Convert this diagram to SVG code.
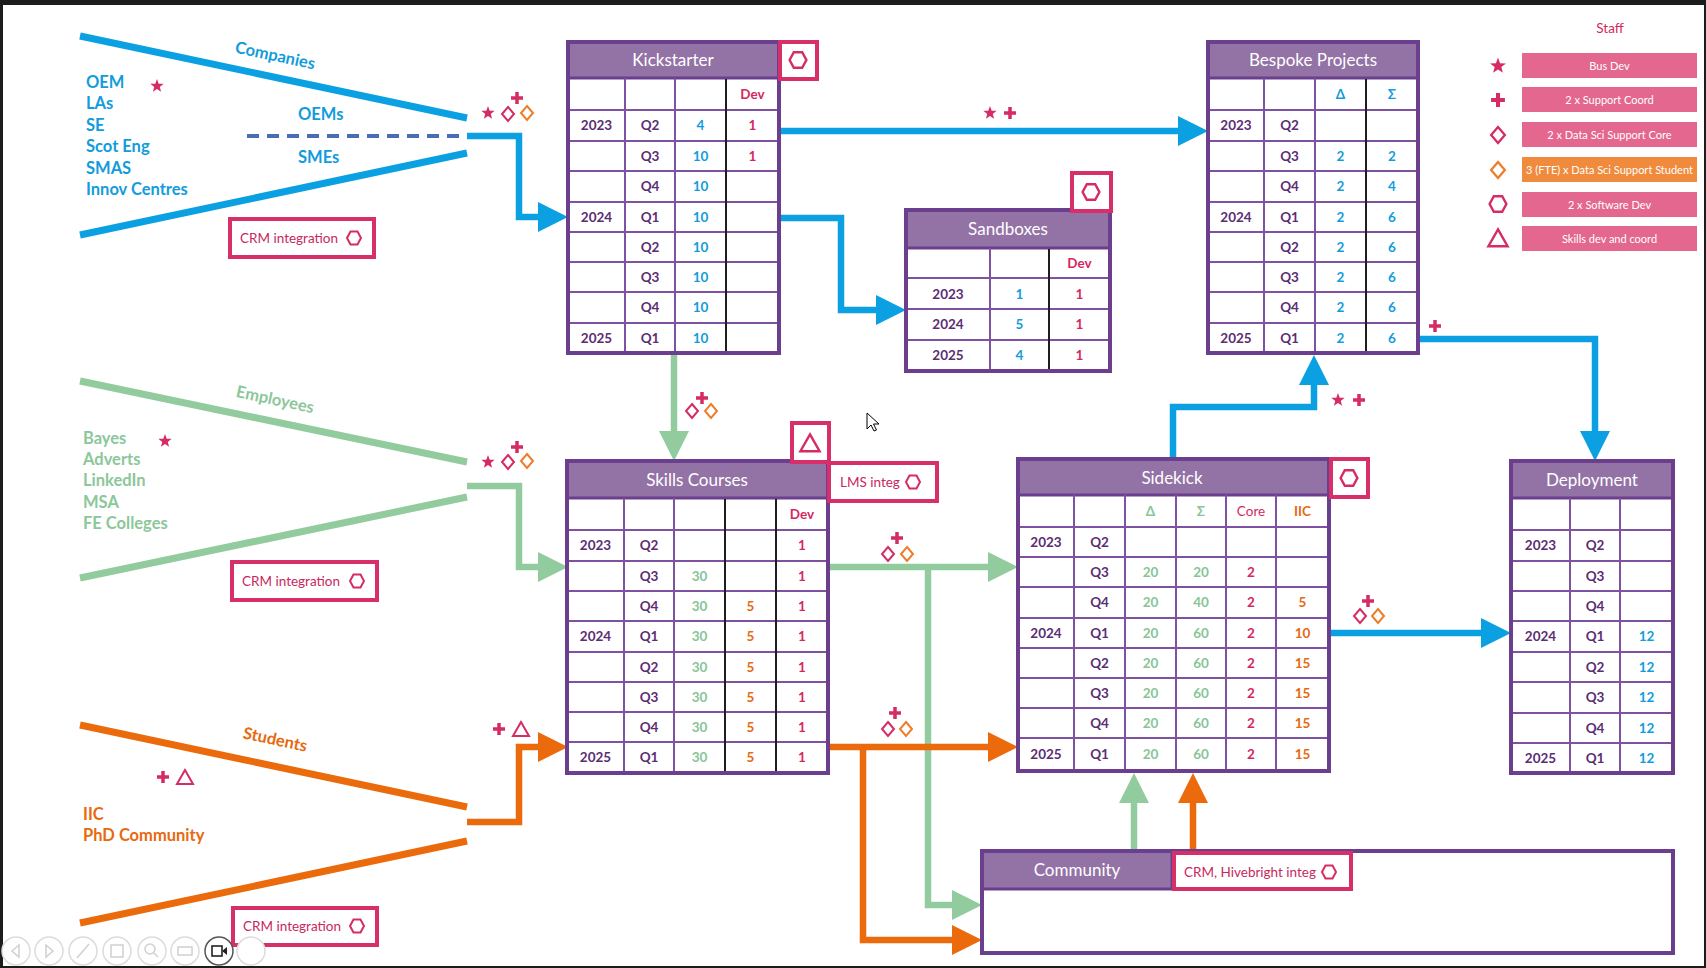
<svg xmlns="http://www.w3.org/2000/svg" width="1706" height="968" viewBox="0 0 1706 968">
<defs>
<style>
text{font-family:Lato,'Open Sans','DejaVu Sans',sans-serif}
.frame{fill:none;stroke:#6B3F8D;stroke-width:4}
.hdr{fill:#9372A5;stroke:#6B3F8D;stroke-width:3}
.grid{fill:none;stroke:#7E52A0;stroke-width:2}
.blk{fill:none;stroke:#1e1e1e;stroke-width:2}
.ttl{font-size:17px;fill:#fff;text-anchor:middle}
.c{font-size:13.5px;font-weight:bold;text-anchor:middle}
.p{fill:#5B2D73}.b{fill:#129CDB}.g{fill:#86C597}.o{fill:#E56A12}.r{fill:#D3285F}
.lb{fill:#fff;stroke:#D62F6A;stroke-width:4}
.lbt{font-size:13.5px;fill:#C8285E}
.bl{stroke:#0AA0E2}.gr{stroke:#92CB9E}.or{stroke:#EB6A0C}
.con{fill:none;stroke-width:6.5}
.fan{stroke-width:7;fill:none}
.src{font-size:16.5px;font-weight:bold}
.leg{fill:#E3678F}
.legt{font-size:11px;fill:#fff;text-anchor:middle}
.pc{fill:#fff;stroke:#dcdcdc;stroke-width:1.5}
.pi{fill:none;stroke:#d0d0d0;stroke-width:1.5}
</style>
<path id="star" d="M0,-7L1.7,-2.35L6.66,-2.16L2.76,0.9L4.11,5.66L0,2.9L-4.11,5.66L-2.76,0.9L-6.66,-2.16L-1.7,-2.35Z" fill="#D42C63"/>
<path id="plus" d="M-6,0H6M0,-6V6" stroke="#D42C63" stroke-width="3.5" fill="none"/>
<path id="dp" d="M0,-7L6,0L0,7L-6,0Z" stroke="#D42C63" stroke-width="2" fill="none"/>
<path id="do" d="M0,-7L6,0L0,7L-6,0Z" stroke="#EE7D2A" stroke-width="2" fill="none"/>
<path id="hex" d="M-7,0L-3.5,-6.5L3.5,-6.5L7,0L3.5,6.5L-3.5,6.5Z" stroke="#D42C63" stroke-width="2" fill="none"/>
<path id="tri" d="M0,-8L8,6L-8,6Z" stroke="#D42C63" stroke-width="2" fill="none"/>
<marker id="aB" markerUnits="userSpaceOnUse" markerWidth="30" markerHeight="30" viewBox="0 0 30 30" refX="8" refY="15" orient="auto"><path d="M0,0L30,15L0,30Z" fill="#0AA0E2"/></marker>
<marker id="aG" markerUnits="userSpaceOnUse" markerWidth="30" markerHeight="30" viewBox="0 0 30 30" refX="8" refY="15" orient="auto"><path d="M0,0L30,15L0,30Z" fill="#92CB9E"/></marker>
<marker id="aO" markerUnits="userSpaceOnUse" markerWidth="30" markerHeight="30" viewBox="0 0 30 30" refX="8" refY="15" orient="auto"><path d="M0,0L30,15L0,30Z" fill="#EB6A0C"/></marker>
</defs>

<rect width="1706" height="968" fill="#1c1c1c"/>
<rect x="3" y="5" width="1701" height="961" fill="#fff"/>

<g id="companies">
<path class="fan bl" d="M80,36L467,118M80,235L467,153"/>
<path d="M247,136H465" stroke="#4A6CB0" stroke-width="4" stroke-dasharray="12 8"/>
<text class="src" fill="#129CDB" font-size="17" text-anchor="middle" transform="translate(274,61) rotate(12)">Companies</text>
<text class="src" fill="#129CDB"><tspan x="86" y="88">OEM</tspan><tspan x="86" y="109">LAs</tspan><tspan x="86" y="131">SE</tspan><tspan x="86" y="152">Scot Eng</tspan><tspan x="86" y="174">SMAS</tspan><tspan x="86" y="195">Innov Centres</tspan></text>
<text class="src" fill="#129CDB" x="298" y="120">OEMs</text>
<text class="src" fill="#129CDB" x="298" y="163">SMEs</text>
<use href="#star" x="157" y="86"/>
<use href="#star" x="488" y="113"/><use href="#dp" x="508" y="114"/><use href="#plus" x="517" y="98"/><use href="#do" x="527" y="113"/>
<rect class="lb" x="230" y="219" width="144" height="38"/>
<text class="lbt" x="240" y="243">CRM integration</text>
<use href="#hex" x="354" y="238"/>
</g>

<g id="employees">
<path class="fan gr" d="M80,381L467,462M80,578L467,497"/>
<text class="src" fill="#8CC79A" font-size="17" text-anchor="middle" transform="translate(274,405) rotate(12)">Employees</text>
<text class="src" fill="#8CC79A"><tspan x="83" y="444">Bayes</tspan><tspan x="83" y="465">Adverts</tspan><tspan x="83" y="486">LinkedIn</tspan><tspan x="83" y="508">MSA</tspan><tspan x="83" y="529">FE Colleges</tspan></text>
<use href="#star" x="165" y="441"/>
<use href="#star" x="488" y="462"/><use href="#dp" x="508" y="462"/><use href="#plus" x="517" y="447"/><use href="#do" x="527" y="461"/>
<rect class="lb" x="232" y="562" width="145" height="38"/>
<text class="lbt" x="242" y="586">CRM integration</text>
<use href="#hex" x="357" y="581"/>
</g>

<g id="students">
<path class="fan or" d="M80,725L467,807M80,923L467,841"/>
<text class="src" fill="#E8690E" font-size="17" text-anchor="middle" transform="translate(274,745) rotate(12)">Students</text>
<text class="src" fill="#E8690E"><tspan x="83" y="820">IIC</tspan><tspan x="83" y="841">PhD Community</tspan></text>
<use href="#plus" x="163" y="777"/><use href="#tri" x="185" y="778"/>
<use href="#plus" x="499" y="729"/><use href="#tri" x="521" y="730"/>
<rect class="lb" x="233" y="908" width="144" height="37"/>
<text class="lbt" x="243" y="931">CRM integration</text>
<use href="#hex" x="357" y="926"/>
</g>

<g id="connectors">
<path class="con bl" d="M467,136H519V217H546" marker-end="url(#aB)"/>
<path class="con bl" d="M781,131H1186" marker-end="url(#aB)"/>
<path class="con bl" d="M779,218H841V310H884" marker-end="url(#aB)"/>
<path class="con gr" d="M674,355V439" marker-end="url(#aG)"/>
<path class="con gr" d="M467,486H519V567H546" marker-end="url(#aG)"/>
<path class="con or" d="M467,822H519V747H546" marker-end="url(#aO)"/>
<path class="con gr" d="M828,567H996" marker-end="url(#aG)"/>
<path class="con gr" d="M928,567V905H960" marker-end="url(#aG)"/>
<path class="con or" d="M828,747H996" marker-end="url(#aO)"/>
<path class="con or" d="M863,747V940H960" marker-end="url(#aO)"/>
<path class="con bl" d="M1329,633H1489" marker-end="url(#aB)"/>
<path class="con bl" d="M1420,339H1595V439" marker-end="url(#aB)"/>
<path class="con bl" d="M1173,459V407H1314V377" marker-end="url(#aB)"/>
<path class="con gr" d="M1134,851V795" marker-end="url(#aG)"/>
<path class="con or" d="M1193,851V795" marker-end="url(#aO)"/>
<use href="#star" x="990" y="113"/><use href="#plus" x="1010" y="113"/>
<use href="#plus" x="702" y="398"/><use href="#dp" x="692" y="411"/><use href="#do" x="711" y="411"/>
<use href="#plus" x="897" y="538"/><use href="#dp" x="888" y="554"/><use href="#do" x="907" y="554"/>
<use href="#plus" x="895" y="713"/><use href="#dp" x="888" y="729"/><use href="#do" x="906" y="729"/>
<use href="#plus" x="1368" y="601"/><use href="#dp" x="1360" y="616"/><use href="#do" x="1378" y="616"/>
<use href="#star" x="1338" y="400"/><use href="#plus" x="1359" y="400"/>
<use href="#plus" x="1435" y="326"/>
</g>

<g id="kickstarter">
<rect x="568" y="42" width="211" height="311" fill="#fff"/>
<rect class="hdr" x="568" y="42" width="211" height="36"/>
<text class="ttl" x="673" y="66">Kickstarter</text>
<path class="grid" d="M568,110H779M568,141H779M568,171H779M568,202H779M568,232H779M568,262H779M568,292H779M568,323H779M625,78V353M675,78V353"/>
<path class="blk" d="M726,79V352"/>
<rect class="frame" x="568" y="42" width="211" height="311"/>
<text class="c" y="99"><tspan class="r" x="752.5">Dev</tspan></text>
<text class="c" y="130"><tspan class="p" x="596.5">2023</tspan><tspan class="p" x="650">Q2</tspan><tspan class="b" x="700.5">4</tspan><tspan class="r" x="752.5">1</tspan></text>
<text class="c" y="160.5"><tspan class="p" x="650">Q3</tspan><tspan class="b" x="700.5">10</tspan><tspan class="r" x="752.5">1</tspan></text>
<text class="c" y="191"><tspan class="p" x="650">Q4</tspan><tspan class="b" x="700.5">10</tspan></text>
<text class="c" y="221.5"><tspan class="p" x="596.5">2024</tspan><tspan class="p" x="650">Q1</tspan><tspan class="b" x="700.5">10</tspan></text>
<text class="c" y="251.5"><tspan class="p" x="650">Q2</tspan><tspan class="b" x="700.5">10</tspan></text>
<text class="c" y="281.5"><tspan class="p" x="650">Q3</tspan><tspan class="b" x="700.5">10</tspan></text>
<text class="c" y="312"><tspan class="p" x="650">Q4</tspan><tspan class="b" x="700.5">10</tspan></text>
<text class="c" y="342.5"><tspan class="p" x="596.5">2025</tspan><tspan class="p" x="650">Q1</tspan><tspan class="b" x="700.5">10</tspan></text>
<rect class="lb" x="780" y="42" width="37" height="37"/>
<use href="#hex" transform="translate(798,60) scale(1.2)"/>
</g>

<g id="sandboxes">
<rect x="906" y="210" width="204" height="161" fill="#fff"/>
<rect class="hdr" x="906" y="210" width="204" height="38"/>
<text class="ttl" x="1008" y="235">Sandboxes</text>
<path class="grid" d="M906,278H1110M906,309H1110M906,340H1110M990,248V371"/>
<path class="blk" d="M1049,249V370"/>
<rect class="frame" x="906" y="210" width="204" height="161"/>
<text class="c" y="268"><tspan class="r" x="1079.5">Dev</tspan></text>
<text class="c" y="298.5"><tspan class="p" x="948">2023</tspan><tspan class="b" x="1019.5">1</tspan><tspan class="r" x="1079.5">1</tspan></text>
<text class="c" y="329"><tspan class="p" x="948">2024</tspan><tspan class="b" x="1019.5">5</tspan><tspan class="r" x="1079.5">1</tspan></text>
<text class="c" y="360"><tspan class="p" x="948">2025</tspan><tspan class="b" x="1019.5">4</tspan><tspan class="r" x="1079.5">1</tspan></text>
<rect class="lb" x="1072" y="173" width="39" height="38"/>
<use href="#hex" transform="translate(1091,192) scale(1.2)"/>
</g>

<g id="bespoke">
<rect x="1208" y="42" width="210" height="311" fill="#fff"/>
<rect class="hdr" x="1208" y="42" width="210" height="36"/>
<text class="ttl" x="1313" y="66">Bespoke Projects</text>
<path class="grid" d="M1208,110H1418M1208,141H1418M1208,171H1418M1208,202H1418M1208,232H1418M1208,262H1418M1208,292H1418M1208,323H1418M1264,78V353M1315,78V353"/>
<path class="blk" d="M1366,79V352"/>
<rect class="frame" x="1208" y="42" width="210" height="311"/>
<text class="c" y="99"><tspan class="b" x="1340.5">Δ</tspan><tspan class="b" x="1392">Σ</tspan></text>
<text class="c" y="130"><tspan class="p" x="1236">2023</tspan><tspan class="p" x="1289.5">Q2</tspan></text>
<text class="c" y="160.5"><tspan class="p" x="1289.5">Q3</tspan><tspan class="b" x="1340.5">2</tspan><tspan class="b" x="1392">2</tspan></text>
<text class="c" y="191"><tspan class="p" x="1289.5">Q4</tspan><tspan class="b" x="1340.5">2</tspan><tspan class="b" x="1392">4</tspan></text>
<text class="c" y="221.5"><tspan class="p" x="1236">2024</tspan><tspan class="p" x="1289.5">Q1</tspan><tspan class="b" x="1340.5">2</tspan><tspan class="b" x="1392">6</tspan></text>
<text class="c" y="251.5"><tspan class="p" x="1289.5">Q2</tspan><tspan class="b" x="1340.5">2</tspan><tspan class="b" x="1392">6</tspan></text>
<text class="c" y="281.5"><tspan class="p" x="1289.5">Q3</tspan><tspan class="b" x="1340.5">2</tspan><tspan class="b" x="1392">6</tspan></text>
<text class="c" y="312"><tspan class="p" x="1289.5">Q4</tspan><tspan class="b" x="1340.5">2</tspan><tspan class="b" x="1392">6</tspan></text>
<text class="c" y="342.5"><tspan class="p" x="1236">2025</tspan><tspan class="p" x="1289.5">Q1</tspan><tspan class="b" x="1340.5">2</tspan><tspan class="b" x="1392">6</tspan></text>
</g>

<g id="skills">
<rect x="567" y="461" width="261" height="312" fill="#fff"/>
<rect class="hdr" x="567" y="461" width="261" height="37"/>
<text class="ttl" x="697" y="486">Skills Courses</text>
<path class="grid" d="M567,530H828M567,561H828M567,591H828M567,621H828M567,652H828M567,682H828M567,712H828M567,742H828M624,498V773M674,498V773"/>
<path class="blk" d="M725,499V772M776,499V772"/>
<rect class="frame" x="567" y="461" width="261" height="312"/>
<text class="c" y="518.5"><tspan class="r" x="802">Dev</tspan></text>
<text class="c" y="550"><tspan class="p" x="595.5">2023</tspan><tspan class="p" x="649">Q2</tspan><tspan class="r" x="802">1</tspan></text>
<text class="c" y="580.5"><tspan class="p" x="649">Q3</tspan><tspan class="g" x="699.5">30</tspan><tspan class="r" x="802">1</tspan></text>
<text class="c" y="610.5"><tspan class="p" x="649">Q4</tspan><tspan class="g" x="699.5">30</tspan><tspan class="o" x="750.5">5</tspan><tspan class="r" x="802">1</tspan></text>
<text class="c" y="641"><tspan class="p" x="595.5">2024</tspan><tspan class="p" x="649">Q1</tspan><tspan class="g" x="699.5">30</tspan><tspan class="o" x="750.5">5</tspan><tspan class="r" x="802">1</tspan></text>
<text class="c" y="671.5"><tspan class="p" x="649">Q2</tspan><tspan class="g" x="699.5">30</tspan><tspan class="o" x="750.5">5</tspan><tspan class="r" x="802">1</tspan></text>
<text class="c" y="701.5"><tspan class="p" x="649">Q3</tspan><tspan class="g" x="699.5">30</tspan><tspan class="o" x="750.5">5</tspan><tspan class="r" x="802">1</tspan></text>
<text class="c" y="731.5"><tspan class="p" x="649">Q4</tspan><tspan class="g" x="699.5">30</tspan><tspan class="o" x="750.5">5</tspan><tspan class="r" x="802">1</tspan></text>
<text class="c" y="762"><tspan class="p" x="595.5">2025</tspan><tspan class="p" x="649">Q1</tspan><tspan class="g" x="699.5">30</tspan><tspan class="o" x="750.5">5</tspan><tspan class="r" x="802">1</tspan></text>
<rect class="lb" x="792" y="423" width="37" height="39"/>
<use href="#tri" transform="translate(810,444) scale(1.2)"/>
<rect class="lb" x="829" y="463" width="108" height="38"/>
<text class="lbt" x="840" y="487">LMS integ</text>
<use href="#hex" x="913" y="482"/>
</g>

<g id="sidekick">
<rect x="1018" y="459" width="311" height="312" fill="#fff"/>
<rect class="hdr" x="1018" y="459" width="311" height="36"/>
<text class="ttl" x="1172" y="484">Sidekick</text>
<path class="grid" d="M1018,527H1329M1018,557H1329M1018,587H1329M1018,618H1329M1018,648H1329M1018,678H1329M1018,708H1329M1018,738H1329M1074,495V771M1125,495V771M1176,495V771M1226,495V771M1276,495V771"/>
<rect class="frame" x="1018" y="459" width="311" height="312"/>
<text class="c" y="515.5"><tspan class="g" x="1150.5">Δ</tspan><tspan class="g" x="1201">Σ</tspan><tspan class="r" x="1251" font-weight="normal">Core</tspan><tspan class="o" x="1302.5">IIC</tspan></text>
<text class="c" y="546.5"><tspan class="p" x="1046">2023</tspan><tspan class="p" x="1099.5">Q2</tspan></text>
<text class="c" y="576.5"><tspan class="p" x="1099.5">Q3</tspan><tspan class="g" x="1150.5">20</tspan><tspan class="g" x="1201">20</tspan><tspan class="r" x="1251">2</tspan></text>
<text class="c" y="607"><tspan class="p" x="1099.5">Q4</tspan><tspan class="g" x="1150.5">20</tspan><tspan class="g" x="1201">40</tspan><tspan class="r" x="1251">2</tspan><tspan class="o" x="1302.5">5</tspan></text>
<text class="c" y="637.5"><tspan class="p" x="1046">2024</tspan><tspan class="p" x="1099.5">Q1</tspan><tspan class="g" x="1150.5">20</tspan><tspan class="g" x="1201">60</tspan><tspan class="r" x="1251">2</tspan><tspan class="o" x="1302.5">10</tspan></text>
<text class="c" y="667.5"><tspan class="p" x="1099.5">Q2</tspan><tspan class="g" x="1150.5">20</tspan><tspan class="g" x="1201">60</tspan><tspan class="r" x="1251">2</tspan><tspan class="o" x="1302.5">15</tspan></text>
<text class="c" y="697.5"><tspan class="p" x="1099.5">Q3</tspan><tspan class="g" x="1150.5">20</tspan><tspan class="g" x="1201">60</tspan><tspan class="r" x="1251">2</tspan><tspan class="o" x="1302.5">15</tspan></text>
<text class="c" y="727.5"><tspan class="p" x="1099.5">Q4</tspan><tspan class="g" x="1150.5">20</tspan><tspan class="g" x="1201">60</tspan><tspan class="r" x="1251">2</tspan><tspan class="o" x="1302.5">15</tspan></text>
<text class="c" y="758.5"><tspan class="p" x="1046">2025</tspan><tspan class="p" x="1099.5">Q1</tspan><tspan class="g" x="1150.5">20</tspan><tspan class="g" x="1201">60</tspan><tspan class="r" x="1251">2</tspan><tspan class="o" x="1302.5">15</tspan></text>
<rect class="lb" x="1331" y="459" width="37" height="38"/>
<use href="#hex" transform="translate(1349,478) scale(1.2)"/>
</g>

<g id="deployment">
<rect x="1511" y="461" width="162" height="312" fill="#fff"/>
<rect class="hdr" x="1511" y="461" width="162" height="37"/>
<text class="ttl" x="1592" y="486">Deployment</text>
<path class="grid" d="M1511,530H1673M1511,561H1673M1511,591H1673M1511,621H1673M1511,652H1673M1511,682H1673M1511,713H1673M1511,743H1673M1570,498V773M1620,498V773"/>
<rect class="frame" x="1511" y="461" width="162" height="312"/>
<text class="c" y="550"><tspan class="p" x="1540.5">2023</tspan><tspan class="p" x="1595">Q2</tspan></text>
<text class="c" y="580.5"><tspan class="p" x="1595">Q3</tspan></text>
<text class="c" y="610.5"><tspan class="p" x="1595">Q4</tspan></text>
<text class="c" y="641"><tspan class="p" x="1540.5">2024</tspan><tspan class="p" x="1595">Q1</tspan><tspan class="b" x="1646.5">12</tspan></text>
<text class="c" y="671.5"><tspan class="p" x="1595">Q2</tspan><tspan class="b" x="1646.5">12</tspan></text>
<text class="c" y="701.5"><tspan class="p" x="1595">Q3</tspan><tspan class="b" x="1646.5">12</tspan></text>
<text class="c" y="732.5"><tspan class="p" x="1595">Q4</tspan><tspan class="b" x="1646.5">12</tspan></text>
<text class="c" y="762.5"><tspan class="p" x="1540.5">2025</tspan><tspan class="p" x="1595">Q1</tspan><tspan class="b" x="1646.5">12</tspan></text>
</g>

<g id="community">
<rect x="982" y="851" width="691" height="102" fill="#fff"/>
<rect class="hdr" x="982" y="851" width="190" height="38"/>
<text class="ttl" x="1077" y="876">Community</text>
<rect class="frame" x="982" y="851" width="691" height="102"/>
<rect class="lb" x="1174" y="853" width="177" height="36"/>
<text class="lbt" x="1184" y="877">CRM, Hivebright integ</text>
<use href="#hex" x="1329" y="872"/>
</g>

<g id="legend">
<text x="1610" y="33" font-size="13.5" fill="#D3285F" text-anchor="middle">Staff</text>
<rect class="leg" x="1522" y="53" width="175" height="25"/>
<rect class="leg" x="1522" y="87" width="175" height="25"/>
<rect class="leg" x="1522" y="122" width="175" height="25"/>
<rect x="1522" y="157" width="175" height="25" fill="#F08A3C"/>
<rect class="leg" x="1522" y="192" width="175" height="25"/>
<rect class="leg" x="1522" y="226" width="175" height="25"/>
<text class="legt" x="1609.5" y="69.5">Bus Dev</text>
<text class="legt" x="1609.5" y="103.5">2 x Support Coord</text>
<text class="legt" x="1609.5" y="138.5">2 x Data Sci Support Core</text>
<text class="legt" x="1609.5" y="173.5">3 (FTE) x Data Sci Support Student</text>
<text class="legt" x="1609.5" y="208.5">2 x Software Dev</text>
<text class="legt" x="1609.5" y="242.5">Skills dev and coord</text>
<use href="#star" transform="translate(1498,66) scale(1.2)"/>
<use href="#plus" transform="translate(1498,100) scale(1.15)"/>
<use href="#dp" transform="translate(1498,135) scale(1.15)"/>
<use href="#do" transform="translate(1498,170) scale(1.15)"/>
<use href="#hex" transform="translate(1498,204) scale(1.2)"/>
<use href="#tri" transform="translate(1498,239) scale(1.2)"/>
</g>

<g id="player">
<circle class="pc" cx="16" cy="951" r="14"/><path class="pi" d="M19,945L12,951L19,957Z"/>
<circle class="pc" cx="49" cy="951" r="14"/><path class="pi" d="M46,945L53,951L46,957Z"/>
<circle class="pc" cx="83" cy="951" r="14"/><path class="pi" d="M77,958L89,944"/>
<circle class="pc" cx="117" cy="951" r="14"/><rect class="pi" x="111" y="945" width="12" height="12"/>
<circle class="pc" cx="152" cy="951" r="14"/><circle class="pi" cx="150" cy="949" r="5"/><path class="pi" d="M154,953L158,957"/>
<circle class="pc" cx="185" cy="951" r="14"/><rect class="pi" x="178" y="947" width="14" height="8"/>
<circle cx="219" cy="951" r="14" fill="#fff" stroke="#555" stroke-width="1.5"/><rect x="212" y="946" width="10" height="10" fill="none" stroke="#222" stroke-width="1.6"/><path d="M222,951L227,947V955Z" fill="#222"/>
<circle class="pc" cx="251" cy="951" r="14"/>
</g>

<path d="M867,413V429L871,425L874,431L876.5,430L873.5,424H879Z" fill="#fff" stroke="#000" stroke-width="1"/>
</svg>
